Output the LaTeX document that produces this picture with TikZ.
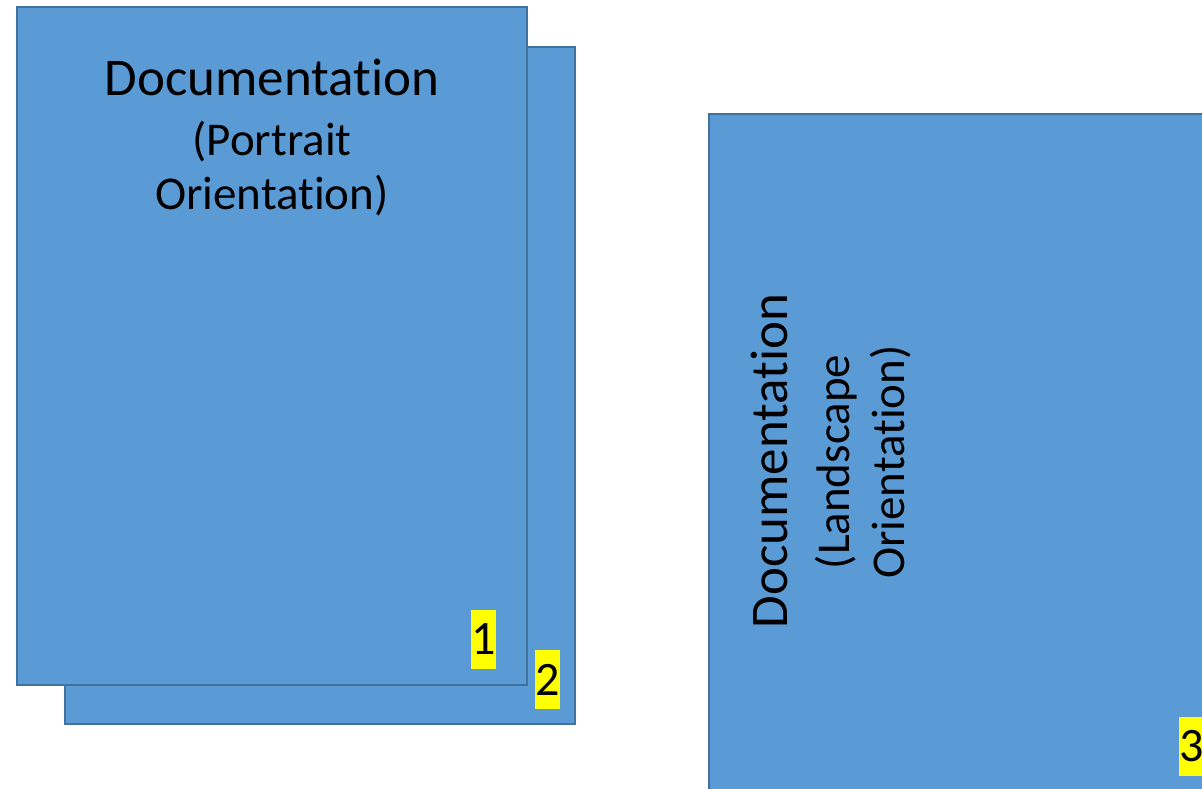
\documentclass[tikz,border=0pt]{standalone}
\usepackage{fontspec}
\setmainfont{Carlito}[Ligatures={NoCommon}, RawFeature={-liga}]
\definecolor{pagefill}{HTML}{5B9BD5}
\definecolor{pageedge}{HTML}{41719C}
\definecolor{hl}{HTML}{FFFF00}
\tikzset{
  page/.style={fill=pagefill, draw=pageedge, line width=2pt},
  bigtxt/.style={anchor=base, inner sep=0pt, font=\fontsize{53}{58}\selectfont},
  midtxt/.style={anchor=base, inner sep=0pt, font=\fontsize{47}{52}\selectfont},
  pagenum/.style={fill=hl, inner sep=0pt, minimum width=25pt, minimum height=59pt, font=\fontsize{48}{52}\selectfont}
}
\begin{document}
\begin{tikzpicture}[x=1pt,y=-1pt]
\useasboundingbox (0,0) rectangle (1202,788);
\clip (0,0) rectangle (1202,788);
% back page
\draw[page] (65,47) rectangle (575,724);
% front page
\draw[page] (17,7) rectangle (527,685);
% landscape page
\draw[page] (709,114) rectangle (1260,840);
% portrait text
\node[bigtxt] (t1) at (272,95) {Documentation};
\node[midtxt] (t2) at (272,155) {(Portrait};
\node[midtxt] (t3) at (272,209) {Orientation)};
% landscape text
\node[bigtxt, rotate=90] (l1) at (787,461) {Documentation};
\node[midtxt, rotate=90] (l2) at (849,462) {(Landscape};
\node[midtxt, rotate=90] (l3) at (904,462) {Orientation)};
% page numbers
\node[pagenum] (n1) at (483.5,639.5) {1};
\node[pagenum] (n2) at (547.5,679.5) {2};
\node[pagenum] (n3) at (1191.5,746.5) {3};
\end{tikzpicture}
\end{document}
